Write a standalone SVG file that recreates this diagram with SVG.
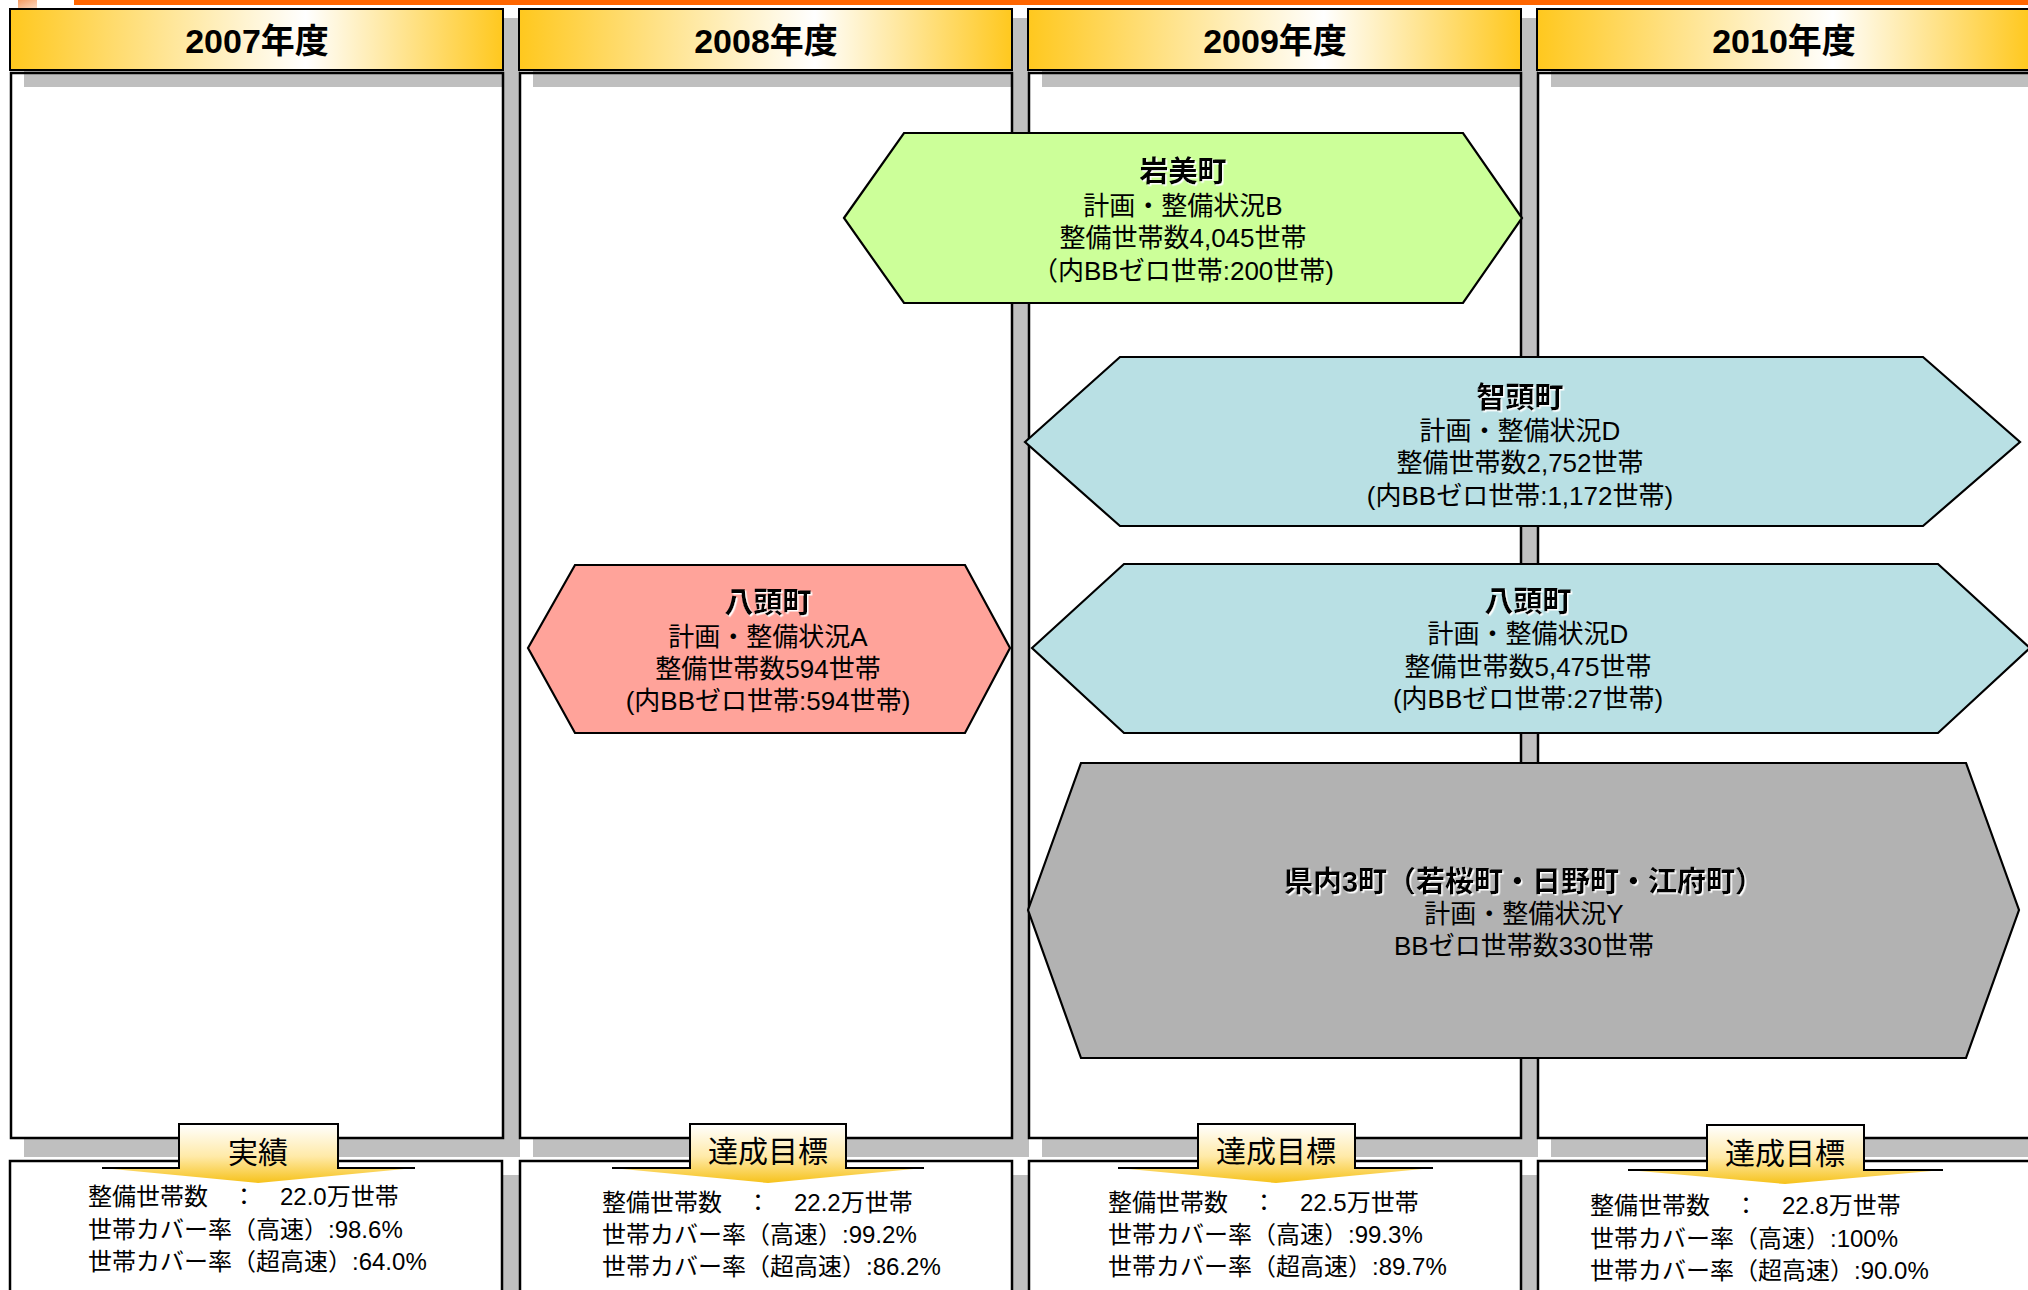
<svg xmlns="http://www.w3.org/2000/svg" width="2028" height="1290" viewBox="0 0 2028 1290">
<style>
text{font-family:"Liberation Sans","Noto Sans CJK JP",sans-serif;fill:#000}
.hdr{font-size:34px;font-weight:bold;text-anchor:middle}
.ttl{font-size:29px;font-weight:bold;text-anchor:middle}
.bd{font-size:26px;text-anchor:middle}
.bt{font-size:24px}
.lb{font-size:30px;text-anchor:middle}
.shadow{fill:#BFBFBF}
.hbox{fill:url(#hg);stroke:#000;stroke-width:2}
.col{fill:#fff;stroke:none}
.colo{fill:none;stroke:#000;stroke-width:2.5}
.hex{stroke:#000;stroke-width:2.2;stroke-linejoin:miter}
.arr{fill:url(#ag)}
.arro{fill:none;stroke:#000;stroke-width:2}
</style>
<defs>
<linearGradient id="hg" x1="0" y1="0" x2="1" y2="0">
<stop offset="0" stop-color="#FFC81E"/>
<stop offset="0.6" stop-color="#FFFFFF"/>
<stop offset="1" stop-color="#FFC81E"/>
</linearGradient>
<linearGradient id="ag" x1="0" y1="0" x2="0" y2="1">
<stop offset="0" stop-color="#FFFFFF"/>
<stop offset="0.55" stop-color="#FFEAA8"/>
<stop offset="1" stop-color="#F6C21A"/>
</linearGradient>
<linearGradient id="og" x1="0" y1="0" x2="1" y2="1">
<stop offset="0" stop-color="#F59A60"/>
<stop offset="1" stop-color="#FCD9C2"/>
</linearGradient>
<filter id="ws" x="-10%" y="-30%" width="120%" height="160%">
<feDropShadow dx="1.5" dy="1.5" stdDeviation="0.6" flood-color="#FFFFFF" flood-opacity="1"/>
</filter>
</defs>
<rect width="2028" height="1290" fill="#fff"/>
<rect x="74" y="0" width="1954" height="5" fill="#FF6600"/>
<rect x="18" y="0" width="19" height="8" fill="url(#og)"/>

<g id="col-2007">
<rect class="shadow" x="24" y="18" width="496" height="1139"/>
<rect class="hbox" x="10" y="9" width="493" height="61"/>
<text class="hdr" x="257" y="53">2007年度</text>
<rect class="col" x="11" y="73" width="492" height="1065"/>
<rect class="shadow" x="24" y="74" width="479" height="13"/>
<rect class="colo" x="11" y="73" width="492" height="1065"/>
</g>
<g id="col-2008">
<rect class="shadow" x="533" y="18" width="496" height="1139"/>
<rect class="hbox" x="519" y="9" width="493" height="61"/>
<text class="hdr" x="766" y="53">2008年度</text>
<rect class="col" x="520" y="73" width="492" height="1065"/>
<rect class="shadow" x="533" y="74" width="479" height="13"/>
<rect class="colo" x="520" y="73" width="492" height="1065"/>
</g>
<g id="col-2009">
<rect class="shadow" x="1042" y="18" width="496" height="1139"/>
<rect class="hbox" x="1028" y="9" width="493" height="61"/>
<text class="hdr" x="1275" y="53">2009年度</text>
<rect class="col" x="1029" y="73" width="492" height="1065"/>
<rect class="shadow" x="1042" y="74" width="479" height="13"/>
<rect class="colo" x="1029" y="73" width="492" height="1065"/>
</g>
<g id="col-2010">
<rect class="shadow" x="1551" y="18" width="496" height="1139"/>
<rect class="hbox" x="1537" y="9" width="493" height="61"/>
<text class="hdr" x="1784" y="53">2010年度</text>
<rect class="col" x="1538" y="73" width="492" height="1065"/>
<rect class="shadow" x="1551" y="74" width="479" height="13"/>
<rect class="colo" x="1538" y="73" width="492" height="1065"/>
</g>

<g id="results">
<rect class="shadow" x="503" y="1175" width="16" height="120"/>
<rect class="shadow" x="1012" y="1175" width="16" height="120"/>
<rect class="shadow" x="1521" y="1175" width="16" height="120"/>
<rect class="col" x="10" y="1161" width="492" height="140"/>
<rect class="colo" x="10" y="1161" width="492" height="140"/>
<rect class="col" x="520" y="1161" width="492" height="140"/>
<rect class="colo" x="520" y="1161" width="492" height="140"/>
<rect class="col" x="1029" y="1161" width="492" height="140"/>
<rect class="colo" x="1029" y="1161" width="492" height="140"/>
<rect class="col" x="1538" y="1161" width="492" height="140"/>
<rect class="colo" x="1538" y="1161" width="492" height="140"/>
</g>

<g id="label-2007">
<polygon class="arr" points="179,1124 338,1124 338,1168 415,1168 258,1183 102,1168 179,1168"/>
<polyline class="arro" points="102,1168 179,1168 179,1124 338,1124 338,1168 415,1168"/>
<text class="lb" x="258" y="1163">実績</text>
</g>
<g id="label-2008">
<polygon class="arr" points="690,1124 846,1124 846,1168 924,1168 768,1183 612,1168 690,1168"/>
<polyline class="arro" points="612,1168 690,1168 690,1124 846,1124 846,1168 924,1168"/>
<text class="lb" x="768" y="1162">達成目標</text>
</g>
<g id="label-2009">
<polygon class="arr" points="1198,1124 1355,1124 1355,1168 1433,1168 1276,1183 1118,1168 1198,1168"/>
<polyline class="arro" points="1118,1168 1198,1168 1198,1124 1355,1124 1355,1168 1433,1168"/>
<text class="lb" x="1276" y="1162">達成目標</text>
</g>
<g id="label-2010">
<polygon class="arr" points="1707,1125 1864,1125 1864,1170 1943,1170 1785,1184 1628,1170 1707,1170"/>
<polyline class="arro" points="1628,1170 1707,1170 1707,1125 1864,1125 1864,1170 1943,1170"/>
<text class="lb" x="1785" y="1164">達成目標</text>
</g>

<g id="result-text-2007">
<text class="bt" x="88" y="1205">整備世帯数　：　22.0万世帯</text>
<text class="bt" x="88" y="1238">世帯カバー率（高速）:98.6%</text>
<text class="bt" x="88" y="1270">世帯カバー率（超高速）:64.0%</text>
</g>
<g id="result-text-2008">
<text class="bt" x="602" y="1211">整備世帯数　：　22.2万世帯</text>
<text class="bt" x="602" y="1243">世帯カバー率（高速）:99.2%</text>
<text class="bt" x="602" y="1275">世帯カバー率（超高速）:86.2%</text>
</g>
<g id="result-text-2009">
<text class="bt" x="1108" y="1211">整備世帯数　：　22.5万世帯</text>
<text class="bt" x="1108" y="1243">世帯カバー率（高速）:99.3%</text>
<text class="bt" x="1108" y="1275">世帯カバー率（超高速）:89.7%</text>
</g>
<g id="result-text-2010">
<text class="bt" x="1590" y="1214">整備世帯数　：　22.8万世帯</text>
<text class="bt" x="1590" y="1247">世帯カバー率（高速）:100%</text>
<text class="bt" x="1590" y="1279">世帯カバー率（超高速）:90.0%</text>
</g>

<g id="connectors"></g>

<g id="node-iwami">
<polygon class="hex" fill="#CCFF99" points="844,218 904,133 1463,133 1522,218 1463,303 904,303"/>
<text class="ttl" x="1183" y="182" filter="url(#ws)">岩美町</text>
<text class="bd" x="1183" y="215">計画・整備状況B</text>
<text class="bd" x="1183" y="247">整備世帯数4,045世帯</text>
<text class="bd" x="1183" y="280">（内BBゼロ世帯:200世帯)</text>
</g>
<g id="node-chizu">
<polygon class="hex" fill="#B9E0E4" points="1025,442 1120,357 1923,357 2020,442 1923,526 1120,526"/>
<text class="ttl" x="1520" y="408" filter="url(#ws)">智頭町</text>
<text class="bd" x="1520" y="440">計画・整備状況D</text>
<text class="bd" x="1520" y="472">整備世帯数2,752世帯</text>
<text class="bd" x="1520" y="505">(内BBゼロ世帯:1,172世帯)</text>
</g>
<g id="node-yazu-2008">
<polygon class="hex" fill="#FFA39A" points="528,648 575,565 965,565 1010,648 965,733 575,733"/>
<text class="ttl" x="768" y="613" filter="url(#ws)">八頭町</text>
<text class="bd" x="768" y="646">計画・整備状況A</text>
<text class="bd" x="768" y="678">整備世帯数594世帯</text>
<text class="bd" x="768" y="710">(内BBゼロ世帯:594世帯)</text>
</g>
<g id="node-yazu-2009">
<polygon class="hex" fill="#B9E0E4" points="1032,648 1124,564 1938,564 2030,648 1938,733 1124,733"/>
<text class="ttl" x="1528" y="612" filter="url(#ws)">八頭町</text>
<text class="bd" x="1528" y="643">計画・整備状況D</text>
<text class="bd" x="1528" y="676">整備世帯数5,475世帯</text>
<text class="bd" x="1528" y="708">(内BBゼロ世帯:27世帯)</text>
</g>
<g id="node-3towns">
<polygon class="hex" fill="#B2B2B2" points="1028,910 1081,763 1966,763 2019,910 1966,1058 1081,1058"/>
<text class="ttl" x="1524" y="892" filter="url(#ws)">県内3町（若桜町・日野町・江府町）</text>
<text class="bd" x="1524" y="923">計画・整備状況Y</text>
<text class="bd" x="1524" y="955">BBゼロ世帯数330世帯</text>
</g>
</svg>
